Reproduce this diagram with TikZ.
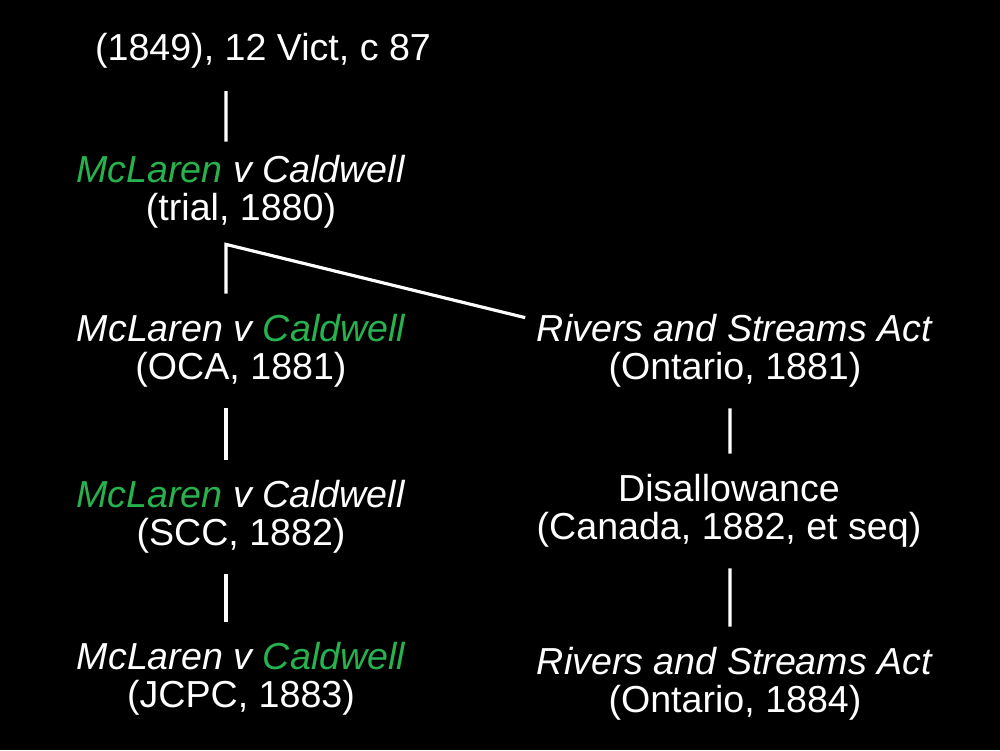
\documentclass[tikz,border=0pt]{standalone}
\usepackage{fontspec}
\setmainfont{Liberation Sans}
\usepackage{xcolor}
\definecolor{casegreen}{RGB}{40,178,78}

\begin{document}
\begin{tikzpicture}[>=latex,
  every node/.style={text=white,font=\fontsize{10.7}{10.9}\selectfont,align=center,inner sep=0pt},
  link/.style={draw=white,line width=.9pt}]

\fill[black] (0,0) rectangle (10,-7.5);
\useasboundingbox (0,0) rectangle (10,-7.5);

%left column, the case
\node (stat) at (2.63,-.51) {(1849), 12 Vict, c 87};
\node (trial) at (2.41,-1.92) {\textit{\textcolor{casegreen}{McLaren} v Caldwell}\\(trial, 1880)};
\node (oca) at (2.41,-3.51) {\textit{McLaren v \textcolor{casegreen}{Caldwell}}\\(OCA, 1881)};
\node (scc) at (2.41,-5.17) {\textit{\textcolor{casegreen}{McLaren} v Caldwell}\\(SCC, 1882)};
\node (jcpc) at (2.41,-6.79) {\textit{McLaren v \textcolor{casegreen}{Caldwell}}\\(JCPC, 1883)};

%right column, the statute
\node (riv1) at (7.35,-3.51) {\textit{Rivers and Streams Act}\\(Ontario, 1881)};
\node (dis) at (7.29,-5.11) {Disallowance\\(Canada, 1882, et seq)};
\node (riv2) at (7.35,-6.84) {\textit{Rivers and Streams Act}\\(Ontario, 1884)};

%links
\draw[link] ([xshift=-3.7mm,yshift=-2.2mm]stat.south) -- ([xshift=-1.5mm,yshift=1.3mm]trial.north);
\draw[link] ([xshift=-1.5mm,yshift=2mm]oca.north) -- ([xshift=-1.5mm,yshift=-1.5mm]trial.south) -- ([xshift=-1.1mm,yshift=-.4mm]riv1.north west);
\draw[link] ([xshift=-1.5mm,yshift=-2mm]oca.south) -- ([xshift=-1.5mm,yshift=2mm]scc.north);
\draw[link] ([xshift=-1.5mm,yshift=-2mm]scc.south) -- ([xshift=-1.5mm,yshift=2mm]jcpc.north);
\draw[link] ([xshift=-.5mm,yshift=-2mm]riv1.south) -- ([xshift=.1mm,yshift=2mm]dis.north);
\draw[link] ([xshift=.1mm,yshift=-2mm]dis.south) -- ([xshift=-.5mm,yshift=2mm]riv2.north);

\end{tikzpicture}
\end{document}
